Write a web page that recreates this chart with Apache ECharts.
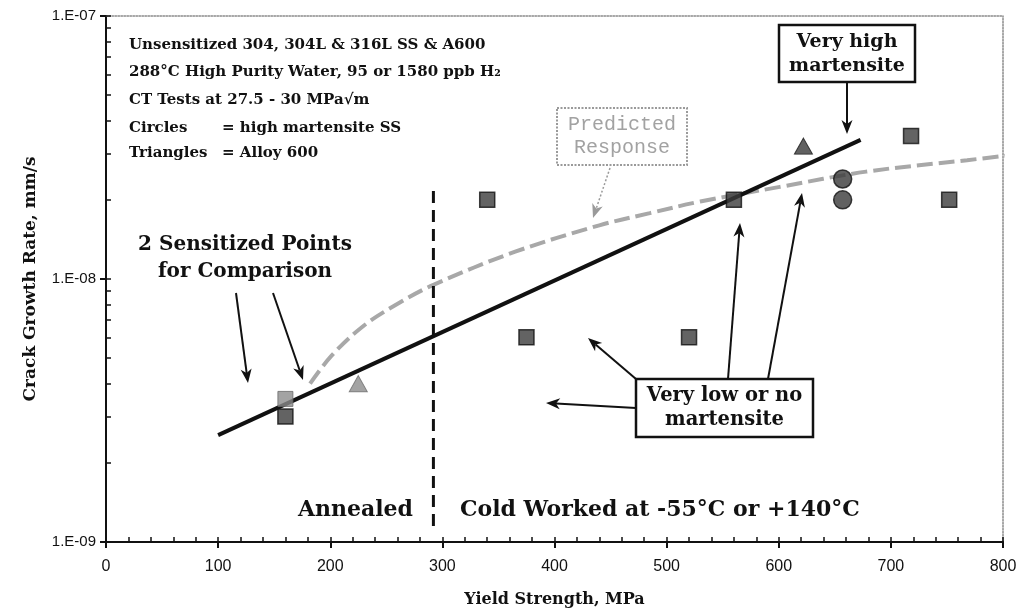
<!DOCTYPE html>
<html>
<head>
<meta charset="utf-8">
<script src="https://cdn.jsdelivr.net/npm/echarts@6/dist/echarts.min.js"></script>
<style>
  html, body { margin: 0; padding: 0; background: #ffffff; }
  #chart { width: 1022px; height: 614px; }
</style>
</head>
<body>
<div id="chart"></div>
<script>
// Yield strength (MPa) vs crack growth rate (mm/s)
const stainlessSquares = [[160, 3.0e-9], [340, 2.0e-8], [375, 6.0e-9], [520, 6.0e-9], [560, 2.0e-8], [718, 3.5e-8], [752, 2.0e-8]];
const sensitizedSquare = [[160, 3.5e-9]];
const martensiteCircles = [[657, 2.4e-8], [657, 2.0e-8]];
const alloy600Triangles = [[622, 3.2e-8]];
const sensitizedTriangle = [[225, 4.0e-9]];
const trendLine = [[100, 2.55e-9], [673, 3.38e-8]];
const predictedResponse = [[182, 4.0e-9], [201, 5.1e-9], [229, 6.6e-9], [259, 8.0e-9], [292, 9.5e-9], [365, 1.27e-8], [440, 1.6e-8], [485, 1.78e-8], [530, 1.97e-8], [601, 2.24e-8], [678, 2.56e-8], [768, 2.83e-8], [808, 2.96e-8]];
const annealBoundary = [[292, 1.15e-9], [292, 2.2e-8]];
const yMinorTickValues = [1e-9, 2e-9, 3e-9, 4e-9, 5e-9, 6e-9, 7e-9, 8e-9, 9e-9, 1e-8, 2e-8, 3e-8, 4e-8, 5e-8, 6e-8, 7e-8, 8e-8, 9e-8, 1e-7];

const SERIF = '"DejaVu Serif", "Liberation Serif", serif';
const SANS = '"Liberation Sans", Arial, sans-serif';
const MONO = '"Liberation Mono", "DejaVu Sans Mono", monospace';

function expLabel(v) {
  const e = Math.round(Math.log10(v));
  return '1.E' + (e < 0 ? '-' : '+') + String(Math.abs(e)).padStart(2, '0');
}

// line with a notched arrow head at (x2, y2)
function arrow(x1, y1, x2, y2, color, width, dash) {
  const L = 14, W = 5.5, N = 4;
  const a = Math.atan2(y2 - y1, x2 - x1);
  const c = Math.cos(a), s = Math.sin(a);
  const bx = x2 - L * c, by = y2 - L * s;
  const nx = x2 - (L - N) * c, ny = y2 - (L - N) * s;
  return [
    { type: 'line', shape: { x1: x1, y1: y1, x2: nx, y2: ny },
      style: { stroke: color, lineWidth: width, lineDash: dash || null }, z: 20 },
    { type: 'polygon', shape: { points: [[x2, y2], [bx - W * s, by + W * c], [nx, ny], [bx + W * s, by - W * c]] },
      style: { fill: color }, z: 20 }
  ];
}

function label(text, x, y, size, align) {
  return {
    type: 'text', z: 30,
    style: { text: text, x: x, y: y, font: 'bold ' + size + 'px ' + SERIF, fill: '#111',
      textAlign: align || 'left', textVerticalAlign: 'middle' }
  };
}

// grey typewriter lettering for the predicted-response tag
function greyLabel(text, x, y) {
  return {
    type: 'text', z: 30,
    style: { text: text, x: x, y: y, font: '20px ' + MONO, fill: '#a2a2a2',
      textAlign: 'center', textVerticalAlign: 'middle' }
  };
}

function box(x, y, w, h) {
  return { type: 'rect', z: 25, shape: { x: x, y: y, width: w, height: h },
    style: { fill: '#fff', stroke: '#111', lineWidth: 2.5 } };
}

const chart = echarts.init(document.getElementById('chart'), null, { renderer: 'canvas' });

const hiddenAxis = { axisLabel: { show: false }, splitLine: { show: false } };

const graphics = [].concat(
  // test conditions
  label('Unsensitized 304, 304L & 316L SS & A600', 129, 45, 15),
  label('288°C High Purity Water, 95 or 1580 ppb H₂', 129, 72.5, 15),
  label('CT Tests at 27.5 - 30 MPa√m', 129, 100, 15),
  label('Circles', 129, 128, 15),
  label('= high martensite SS', 222, 128, 15),
  label('Triangles', 129, 153, 15),
  label('= Alloy 600', 222, 153, 15),
  // sensitized points note
  label('2 Sensitized Points', 245, 245, 20, 'center'),
  label('for Comparison', 245, 272, 20, 'center'),
  arrow(236, 293, 248, 383, '#111', 2),
  arrow(273, 293, 303, 380, '#111', 2),
  // predicted response tag
  { type: 'rect', z: 25, shape: { x: 557, y: 108, width: 130, height: 57 },
    style: { fill: '#fff', stroke: '#9a9a9a', lineWidth: 2, lineDash: [2, 1.5] } },
  greyLabel('Predicted', 622, 125),
  greyLabel('Response', 622, 148),
  arrow(610, 168, 593, 218, '#9a9a9a', 1.5, [2, 2]),
  // very high martensite tag
  box(779, 25, 136, 57),
  label('Very high', 847, 42, 19, 'center'),
  label('martensite', 847, 66, 19, 'center'),
  arrow(847, 83, 847, 134, '#111', 2),
  // very low martensite tag
  box(636, 379, 177, 58),
  label('Very low or no', 724.5, 396, 19.5, 'center'),
  label('martensite', 724.5, 420, 19.5, 'center'),
  arrow(728, 379, 740, 223, '#111', 2),
  arrow(768, 379, 802, 193, '#111', 2),
  arrow(636, 379, 588, 338, '#111', 2),
  arrow(636, 408, 546, 403, '#111', 2),
  // regime labels
  label('Annealed', 413, 510, 22, 'right'),
  label('Cold Worked at -55°C or +140°C', 460, 510, 22, 'left')
);

chart.setOption({
  animation: false,
  backgroundColor: '#ffffff',
  grid: { left: 106, top: 16, right: 19, bottom: 72, containLabel: false },
  xAxis: [
    {
      type: 'value', min: 0, max: 800, interval: 100, position: 'bottom',
      axisLine: { onZero: false, lineStyle: { color: '#111', width: 2 } },
      axisTick: { length: 6, lineStyle: { color: '#111', width: 2 } },
      axisLabel: { color: '#111', fontFamily: SANS, fontSize: 16, margin: 17 },
      splitLine: { show: false },
      name: 'Yield Strength, MPa', nameLocation: 'middle', nameGap: 50,
      nameTextStyle: { color: '#111', fontFamily: SERIF, fontWeight: 'bold', fontSize: 16 }
    },
    Object.assign({
      type: 'value', min: 0, max: 800, interval: 20, position: 'bottom',
      axisLine: { show: false },
      axisTick: { inside: true, length: 5, lineStyle: { color: '#111', width: 1.5 } }
    }, hiddenAxis),
    Object.assign({
      type: 'value', min: 0, max: 800, position: 'top',
      axisLine: { onZero: false, lineStyle: { color: '#8a8a8a', width: 1.5, type: 'dotted' } },
      axisTick: { show: false }
    }, hiddenAxis)
  ],
  yAxis: [
    {
      type: 'log', logBase: 10, min: 1e-9, max: 1e-7, position: 'left',
      axisLine: { onZero: false, lineStyle: { color: '#111', width: 2 } },
      axisTick: { length: 6, lineStyle: { color: '#111', width: 2 } },
      axisLabel: { color: '#111', fontFamily: SANS, fontSize: 15, margin: 10, formatter: expLabel },
      splitLine: { show: false },
      name: 'Crack Growth Rate, mm/s', nameLocation: 'middle', nameGap: 67, nameRotate: 90,
      nameTextStyle: { color: '#111', fontFamily: SERIF, fontWeight: 'bold', fontSize: 17 }
    },
    Object.assign({
      type: 'log', logBase: 10, min: 1e-9, max: 1e-7, position: 'left',
      axisLine: { show: false },
      axisTick: { inside: true, length: 5, customValues: yMinorTickValues, lineStyle: { color: '#111', width: 1.5 } }
    }, hiddenAxis),
    Object.assign({
      type: 'log', logBase: 10, min: 1e-9, max: 1e-7, position: 'right',
      axisLine: { onZero: false, lineStyle: { color: '#8a8a8a', width: 1.5, type: 'dotted' } },
      axisTick: { show: false }
    }, hiddenAxis)
  ],
  series: [
    { name: 'Predicted Response', type: 'line', data: predictedResponse, smooth: 0.35, symbol: 'none', clip: false,
      lineStyle: { color: '#a8a8a8', width: 4, type: [16, 6] }, z: 3 },
    { name: 'Anneal boundary', type: 'line', data: annealBoundary, symbol: 'none',
      lineStyle: { color: '#111', width: 3, type: [12, 7] }, z: 4 },
    { name: 'Trend', type: 'line', data: trendLine, symbol: 'none',
      lineStyle: { color: '#111', width: 4 }, z: 5 },
    { name: 'Stainless steel', type: 'scatter', data: stainlessSquares, symbol: 'rect', symbolSize: 15,
      itemStyle: { color: '#3c3c3c', borderColor: '#111', borderWidth: 1.5 }, z: 6 },
    { name: 'Sensitized SS', type: 'scatter', data: sensitizedSquare, symbol: 'rect', symbolSize: 15,
      itemStyle: { color: '#8c8c8c', borderColor: '#6a6a6a', borderWidth: 1 }, z: 6 },
    { name: 'High martensite SS', type: 'scatter', data: martensiteCircles, symbol: 'circle', symbolSize: 18,
      itemStyle: { color: '#3a3a3a', borderColor: '#111', borderWidth: 1.5 }, z: 6 },
    { name: 'Alloy 600', type: 'scatter', data: alloy600Triangles, symbol: 'triangle', symbolSize: [18, 16],
      itemStyle: { color: '#3a3a3a', borderColor: '#111', borderWidth: 1 }, z: 6 },
    { name: 'Sensitized Alloy 600', type: 'scatter', data: sensitizedTriangle, symbol: 'triangle', symbolSize: [18, 16],
      itemStyle: { color: '#8c8c8c', borderColor: '#6a6a6a', borderWidth: 1 }, z: 6 }
  ],
  graphic: graphics
});
</script>
</body>
</html>
